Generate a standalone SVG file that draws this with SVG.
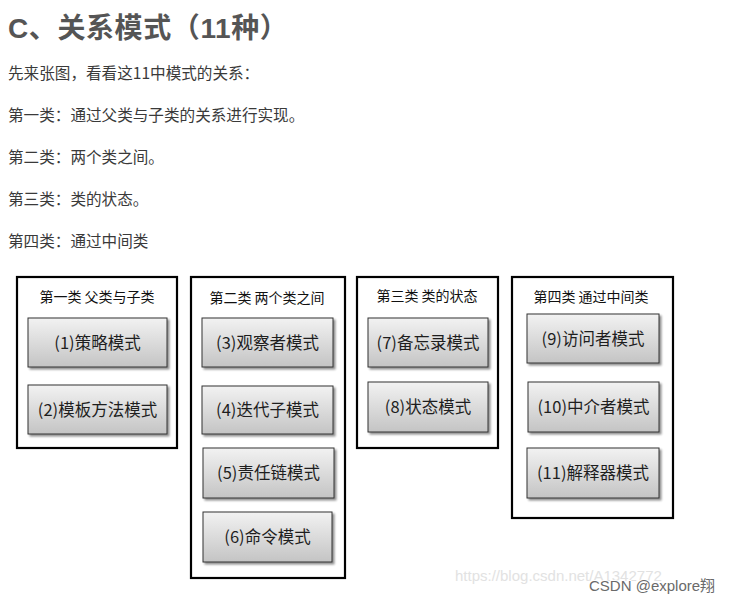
<svg xmlns="http://www.w3.org/2000/svg" width="731" height="603" viewBox="0 0 731 603">
<defs>
<linearGradient id="g" x1="0" y1="0" x2="0" y2="1">
<stop offset="0" stop-color="#f2f2f2"/>
<stop offset="1" stop-color="#c4c4c4"/>
</linearGradient>
<filter id="sh" x="-10%" y="-10%" width="130%" height="140%">
<feGaussianBlur in="SourceAlpha" stdDeviation="1.2"/>
<feOffset dx="1.5" dy="2" result="b"/>
<feComponentTransfer><feFuncA type="linear" slope="0.45"/></feComponentTransfer>
<feMerge><feMergeNode/><feMergeNode in="SourceGraphic"/></feMerge>
</filter>
</defs>
<style>
.h{font-family:"Liberation Sans","Noto Sans CJK SC",sans-serif;font-weight:bold;font-size:28px;letter-spacing:0.6px;fill:#555}
.p{font-family:"Noto Sans CJK SC",sans-serif;font-size:15.6px;fill:#3a3a3a}
.panel{fill:#fff;stroke:#000;stroke-width:2.2}
.pt{font-family:"Noto Sans CJK SC",sans-serif;font-size:14px;fill:#111;text-anchor:middle}
.nb{fill:url(#g);stroke:#333;stroke-width:1;filter:url(#sh)}
.nt{font-family:"Noto Sans CJK SC",sans-serif;font-size:16.5px;fill:#1e1e1e;text-anchor:middle}
.wm{font-family:"Liberation Sans",sans-serif;font-size:15px;fill:#e2e2e2}
.wm2{font-family:"Liberation Sans","Noto Sans CJK SC",sans-serif;font-size:15px;fill:#6a6a6a}
</style>
<rect width="731" height="603" fill="#fff"/>
<text class="h" x="8" y="38">C、关系模式（11种）</text>
<text class="p" x="8" y="79">先来张图，看看这11中模式的关系：</text>
<text class="p" x="8" y="121">第一类：通过父类与子类的关系进行实现。</text>
<text class="p" x="8" y="163">第二类：两个类之间。</text>
<text class="p" x="8" y="205">第三类：类的状态。</text>
<text class="p" x="8" y="247">第四类：通过中间类</text>

<g id="panel1">
<rect class="panel" x="17" y="277" width="160" height="171"/>
<text class="pt" x="97" y="302">第一类 父类与子类</text>
</g>
<g id="panel2">
<rect class="panel" x="191" y="277" width="154" height="301"/>
<text class="pt" x="267" y="303">第二类 两个类之间</text>
</g>
<g id="panel3">
<rect class="panel" x="357" y="277" width="141" height="171"/>
<text class="pt" x="427" y="301">第三类 类的状态</text>
</g>
<g id="panel4">
<rect class="panel" x="512" y="277" width="161" height="241"/>
<text class="pt" x="591" y="302">第四类 通过中间类</text>
</g>

<g id="n1"><rect class="nb" x="28" y="318" width="139" height="49"/><text class="nt" x="97.5" y="348.5">(1)策略模式</text></g>
<g id="n2"><rect class="nb" x="28" y="385" width="139" height="49"/><text class="nt" x="97.5" y="415.5">(2)模板方法模式</text></g>
<g id="n3"><rect class="nb" x="202" y="318" width="131" height="49"/><text class="nt" x="267.5" y="348.5">(3)观察者模式</text></g>
<g id="n4"><rect class="nb" x="202" y="386" width="131" height="48"/><text class="nt" x="267.5" y="416">(4)迭代子模式</text></g>
<g id="n5"><rect class="nb" x="203" y="448" width="131" height="50"/><text class="nt" x="268.5" y="479">(5)责任链模式</text></g>
<g id="n6"><rect class="nb" x="203" y="512" width="129" height="50"/><text class="nt" x="267.5" y="543">(6)命令模式</text></g>
<g id="n7"><rect class="nb" x="368" y="318" width="120" height="49"/><text class="nt" x="428" y="348.5">(7)备忘录模式</text></g>
<g id="n8"><rect class="nb" x="368" y="382" width="120" height="50"/><text class="nt" x="428" y="413">(8)状态模式</text></g>
<g id="n9"><rect class="nb" x="527" y="314" width="132" height="49"/><text class="nt" x="593" y="344.5">(9)访问者模式</text></g>
<g id="n10"><rect class="nb" x="528" y="382" width="131" height="50"/><text class="nt" x="593.5" y="413">(10)中介者模式</text></g>
<g id="n11"><rect class="nb" x="527" y="448" width="132" height="50"/><text class="nt" x="593" y="479">(11)解释器模式</text></g>

<g id="connectors"/>

<text class="wm" x="455" y="581">https://blog.csdn.net/A1342772</text>
<text class="wm2" x="589" y="591" stroke="#fff" stroke-width="2" paint-order="stroke">CSDN @explore翔</text>
</svg>
